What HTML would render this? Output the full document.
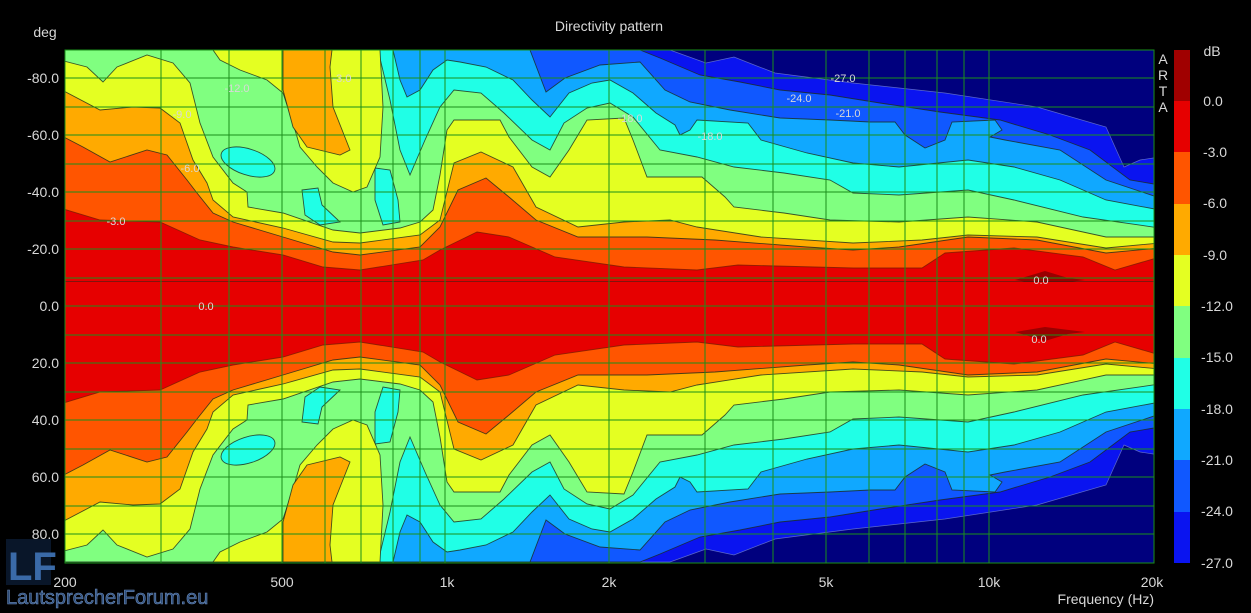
<!DOCTYPE html>
<html><head><meta charset="utf-8"><style>
html,body{margin:0;padding:0;background:#000;}
svg{display:block;}
text{font-family:"Liberation Sans",sans-serif;}
</style></head><body>
<svg width="1251" height="613" viewBox="0 0 1251 613" xmlns="http://www.w3.org/2000/svg">
<defs>
<clipPath id="pc"><rect x="65" y="50" width="1089" height="513"/></clipPath>
</defs>
<rect width="1251" height="613" fill="#000"/>
<g clip-path="url(#pc)">
<rect x="60" y="40" width="1110" height="540" fill="#00007e"/>
<g id="U" stroke="#1c2a1c" stroke-width="0.9" stroke-opacity="0.8">
<path fill="#0a14f0" stroke="#7080d0" stroke-width="0.7" d="M60,330 L60,50 L670,50 L706,63 L734,57 L775,73 L853,83 L945,93 L1037,107 L1106,127 L1124,167 L1140,160 L1160,157 L1160,330 Z"/>
<path fill="#1058ff" d="M60,330 L60,50 L640,50 L660,58 L700,75 L740,82 L780,90 L830,95 L880,103 L940,112 L1000,120 L1050,135 L1090,150 L1110,165 L1130,180 L1160,185 L1160,330 Z"/>
<path fill="#10a8ff" d="M60,330 L60,50 L530,50 L546,92 L565,78 L600,65 L640,62 L665,90 L690,102 L730,110 L780,118 L830,120 L870,122 L895,122 L905,135 L925,148 L945,140 L952,122 L995,120 L1002,130 L990,137 L1005,140 L1060,150 L1106,180 L1160,198 L1160,330 Z"/>
<path fill="#20ffe6" d="M60,330 L60,50 L393,50 L400,80 L407,97 L420,90 L433,70 L447,60 L460,62 L486,67 L513,80 L532,100 L550,117 L569,93 L592,83 L610,80 L633,93 L656,113 L675,125 L680,135 L690,130 L697,120 L748,123 L761,140 L807,153 L853,163 L899,167 L968,160 L1014,167 L1060,180 L1106,200 L1160,210 L1160,330 Z"/>
<path fill="#80ff80" d="M60,330 L60,50 L378,50 L390,100 L400,150 L410,175 L425,140 L440,107 L454,90 L481,93 L504,113 L532,140 L550,150 L564,123 L587,108 L610,103 L633,117 L660,150 L697,157 L734,167 L784,173 L830,180 L853,193 L899,195 L968,190 L1014,200 L1083,217 L1160,228 L1160,330 Z"/>
<ellipse cx="248" cy="162" rx="28" ry="13" transform="rotate(18 248 162)" fill="#20ffe6"/>
<path fill="#20ffe6" d="M302,190 L318,188 L322,205 L340,222 L320,225 L305,215 Z"/>
<path fill="#20ffe6" d="M375,168 L390,170 L398,200 L400,222 L383,225 L375,200 Z"/>
<path fill="#e4ff22" d="M213,50 L380,50 L383,107 L380,157 L367,187 L353,192 L333,183 L317,167 L300,147 L293,123 L283,93 L267,80 L240,70 L220,60 Z"/>
<path fill="#e4ff22" d="M60,330 L60,60 L87,67 L103,82 L117,67 L147,55 L173,63 L190,83 L200,123 L213,157 L233,183 L247,192 L248,207 L283,213 L333,230 L360,233 L400,228 L420,222 L433,210 L440,175 L447,130 L454,120 L500,120 L509,137 L532,167 L550,177 L569,150 L587,120 L624,118 L633,140 L647,177 L702,177 L725,197 L734,207 L784,213 L830,220 L899,222 L968,217 L1037,222 L1106,237 L1160,237 L1160,330 Z"/>
<path fill="#ffaa00" d="M283,50 L332,50 L330,67 L333,107 L350,150 L340,155 L307,147 L293,127 L283,90 Z"/>
<path fill="#ffaa00" d="M60,330 L60,89 L100,110 L133,107 L160,108 L180,123 L193,160 L207,183 L213,200 L233,217 L283,228 L333,242 L360,243 L420,235 L440,220 L454,163 L481,152 L513,167 L536,207 L578,227 L624,222 L670,220 L697,227 L761,237 L853,243 L922,240 L968,235 L1037,237 L1106,248 L1160,243 L1160,330 Z"/>
<path fill="#ff5500" d="M60,330 L60,135 L83,147 L110,162 L147,150 L167,155 L187,180 L197,193 L213,213 L233,222 L283,237 L333,252 L360,255 L420,247 L440,227 L458,190 L486,178 L509,197 L536,220 L578,237 L647,237 L715,240 L807,247 L853,250 L899,247 L968,237 L1037,240 L1106,253 L1160,248 L1160,330 Z"/>
<path fill="#e60000" stroke="none" d="M60,330 L60,208 L100,220 L160,222 L200,240 L233,247 L283,255 L323,267 L360,270 L423,260 L440,250 L477,232 L509,237 L555,257 L624,267 L697,270 L738,265 L853,268 L922,268 L945,253 L1014,248 L1083,257 L1115,270 L1160,257 L1160,330 Z"/>
<path fill="none" stroke="#7a1a00" d="M60,208 L100,220 L160,222 L200,240 L233,247 L283,255 L323,267 L360,270 L423,260 L440,250 L477,232 L509,237 L555,257 L624,267 L697,270 L738,265 L853,268 L922,268 L945,253 L1014,248 L1083,257 L1115,270 L1160,257"/>
<path fill="#9a0000" stroke="none" d="M1015,280 L1045,271 L1068,278 L1085,280 L1045,285 Z"/>
</g>
<use href="#U" transform="translate(0,612) scale(1,-1)"/>
<g stroke="#1a8f1a" stroke-width="1">
<line x1="65" y1="78" x2="1154" y2="78"/><line x1="65" y1="107" x2="1154" y2="107"/>
<line x1="65" y1="135" x2="1154" y2="135"/><line x1="65" y1="164" x2="1154" y2="164"/>
<line x1="65" y1="192" x2="1154" y2="192"/><line x1="65" y1="221" x2="1154" y2="221"/>
<line x1="65" y1="249" x2="1154" y2="249"/><line x1="65" y1="278" x2="1154" y2="278"/>
<line x1="65" y1="306" x2="1154" y2="306"/><line x1="65" y1="335" x2="1154" y2="335"/>
<line x1="65" y1="363" x2="1154" y2="363"/><line x1="65" y1="392" x2="1154" y2="392"/>
<line x1="65" y1="420" x2="1154" y2="420"/><line x1="65" y1="449" x2="1154" y2="449"/>
<line x1="65" y1="477" x2="1154" y2="477"/><line x1="65" y1="506" x2="1154" y2="506"/>
<line x1="65" y1="534" x2="1154" y2="534"/>
<line x1="161" y1="50" x2="161" y2="563"/><line x1="229" y1="50" x2="229" y2="563"/>
<line x1="282" y1="50" x2="282" y2="563"/><line x1="325" y1="50" x2="325" y2="563"/>
<line x1="361" y1="50" x2="361" y2="563"/><line x1="393" y1="50" x2="393" y2="563"/>
<line x1="420" y1="50" x2="420" y2="563"/><line x1="445" y1="50" x2="445" y2="563"/>
<line x1="609" y1="50" x2="609" y2="563"/><line x1="705" y1="50" x2="705" y2="563"/>
<line x1="773" y1="50" x2="773" y2="563"/><line x1="826" y1="50" x2="826" y2="563"/>
<line x1="869" y1="50" x2="869" y2="563"/><line x1="905" y1="50" x2="905" y2="563"/>
<line x1="937" y1="50" x2="937" y2="563"/><line x1="964" y1="50" x2="964" y2="563"/>
<line x1="989" y1="50" x2="989" y2="563"/>
</g>
<g font-size="11" fill="#d8d8d8" text-anchor="middle">
<text x="843" y="82">-27.0</text><text x="799" y="102">-24.0</text><text x="848" y="117">-21.0</text>
<text x="116" y="225">-3.0</text><text x="206" y="310">0.0</text>
<text x="1041" y="284">0.0</text><text x="1039" y="343">0.0</text>
<text x="182" y="118">-9.0</text><text x="237" y="92">-12.0</text><text x="342" y="82">-3.0</text>
<text x="190" y="172">-6.0</text><text x="630" y="122">-18.0</text><text x="710" y="140">-18.0</text>
</g>
</g>
<rect x="65" y="50" width="1089" height="513" fill="none" stroke="#1a8f1a" stroke-width="1"/>
<!-- colorbar -->
<rect x="1174" y="50" width="16" height="51" fill="#a00000"/>
<rect x="1174" y="101" width="16" height="51" fill="#e60000"/>
<rect x="1174" y="152" width="16" height="52" fill="#ff5500"/>
<rect x="1174" y="204" width="16" height="51" fill="#ffaa00"/>
<rect x="1174" y="255" width="16" height="51" fill="#e4ff22"/>
<rect x="1174" y="306" width="16" height="52" fill="#80ff80"/>
<rect x="1174" y="358" width="16" height="51" fill="#20ffe6"/>
<rect x="1174" y="409" width="16" height="51" fill="#10a8ff"/>
<rect x="1174" y="460" width="16" height="52" fill="#1058ff"/>
<rect x="1174" y="512" width="16" height="51" fill="#0a14f0"/>
<g fill="#d8d8d8" font-size="14">
<text x="1212" y="56" text-anchor="middle">dB</text>
<g text-anchor="middle">
<text x="1213" y="106">0.0</text><text x="1215" y="157">-3.0</text><text x="1215" y="208">-6.0</text>
<text x="1215" y="260">-9.0</text><text x="1217" y="311">-12.0</text><text x="1217" y="362">-15.0</text>
<text x="1217" y="414">-18.0</text><text x="1217" y="465">-21.0</text><text x="1217" y="516">-24.0</text>
<text x="1217" y="568">-27.0</text>
</g>
<g text-anchor="middle" font-size="14">
<text x="1163" y="64">A</text><text x="1163" y="80">R</text><text x="1163" y="96">T</text><text x="1163" y="112">A</text>
</g>
<text x="609" y="31" text-anchor="middle">Directivity pattern</text>
<text x="45" y="37" text-anchor="middle">deg</text>
<g text-anchor="end">
<text x="59" y="83">-80.0</text><text x="59" y="140">-60.0</text><text x="59" y="197">-40.0</text>
<text x="59" y="254">-20.0</text><text x="59" y="311">0.0</text><text x="59" y="368">20.0</text>
<text x="59" y="425">40.0</text><text x="59" y="482">60.0</text><text x="59" y="539">80.0</text>
</g>
<g text-anchor="middle">
<text x="65" y="587">200</text><text x="282" y="587">500</text><text x="447" y="587">1k</text>
<text x="609" y="587">2k</text><text x="826" y="587">5k</text><text x="989" y="587">10k</text>
<text x="1152" y="587">20k</text>
</g>
<text x="1154" y="604" text-anchor="end">Frequency (Hz)</text>
</g>
<!-- logo -->
<rect x="6" y="539" width="45" height="46" fill="#0a1a30" opacity="0.85"/>
<text x="8" y="580" font-size="40" font-weight="bold" fill="#3a6aa8" style="font-family:'Liberation Sans',sans-serif">LF</text>
<text x="6" y="604" font-size="20" fill="#2a4a78" stroke="#6a8ab8" stroke-width="0.6" style="font-family:'Liberation Sans',sans-serif">LautsprecherForum.eu</text>
</svg>
</body></html>
